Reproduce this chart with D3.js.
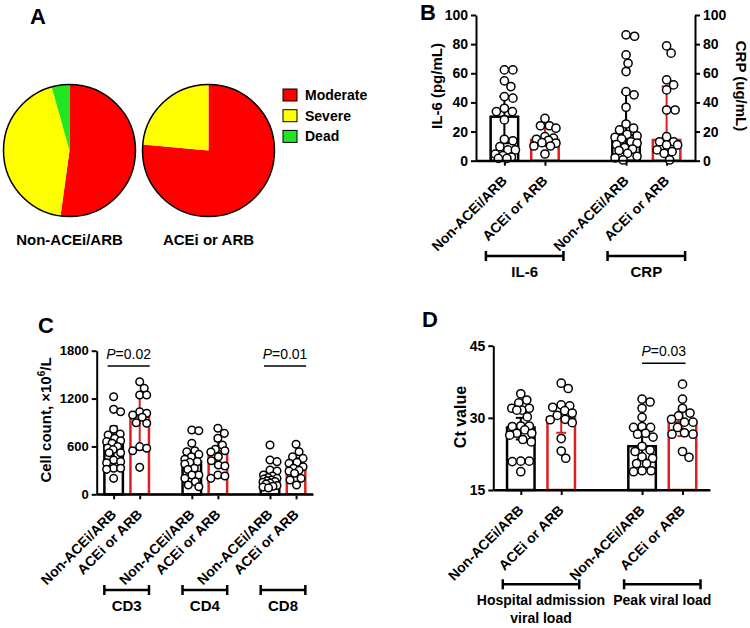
<!DOCTYPE html>
<html><head><meta charset="utf-8">
<script src="https://cdn.jsdelivr.net/npm/d3@7"></script>
<style>body{margin:0;background:#fff}svg{display:block}</style>
</head><body><svg id="c" width="750" height="628"></svg>
<script>
// ---------------- DATA ----------------
const treatments = ["Non-ACEi/ARB", "ACEi or ARB"];

// Panel A (patient counts)
const pieCategories = ["Moderate", "Severe", "Dead"];
const pieColors = ["#ff0000", "#ffff00", "#22e622"];
const pieNonACEi = [12, 10, 1];
const pieACEi = [13, 4, 0];

// Panel B
const bGroups = ["IL-6", "CRP"];
const bTicks = [0, 20, 40, 60, 80, 100];
const il6Non = [62.3, 62.3, 54.8, 50.9, 44, 42.9, 36, 33.7, 33.7, 28, 14.7, 13.7, 9.6, 7.4, 7.4, 4.5, 3.5, 2.5, 1.6, 1.6];
const il6ACEi = [29, 24, 24, 22.3, 16.5, 15.5, 14.7, 14, 12.4, 12, 10.1, 10.1, 4.6];
const crpNon = [86.4, 85.4, 72.6, 66.9, 61.2, 47.4, 45.2, 36.7, 25.2, 22.3, 21.1, 18, 17, 16, 15, 13, 12, 11, 9, 8, 7, 5, 3, 2, 0.5];
const crpACEi = [78.8, 73.8, 55.5, 52, 48.6, 34.8, 34.8, 16.5, 13, 13, 10.8, 10.8, 7.4, 6.2, 5, 0.5];
const bBars = [30.2, 14.2, 17.6, 14.2];
const bErrLow = [12, 10, 6, 5];
const bErrHigh = [44, 23.8, 47, 51];

// Panel C
const cGroups = ["CD3", "CD4", "CD8"];
const cTicks = [0, 600, 1200, 1800];
const cd3Non = [1223, 1065, 1035, 815, 756, 743, 702, 672, 660, 640, 600, 580, 560, 521, 520, 430, 409, 396, 326, 326, 313, 200];
const cd3ACEi = [1411, 1329, 1245, 1245, 1035, 1015, 994, 965, 897, 890, 597, 577, 546, 338];
const cd4Non = [806, 797, 639, 546, 534, 500, 470, 440, 409, 400, 380, 326, 310, 242, 242, 200, 158, 117, 95];
const cd4ACEi = [827, 764, 702, 618, 564, 546, 530, 471, 421, 367, 355, 242, 229, 200];
const cd8Non = [618, 430, 409, 305, 292, 242, 230, 210, 200, 190, 180, 170, 160, 150, 140, 130, 110, 100, 90, 80];
const cd8ACEi = [627, 534, 471, 450, 400, 388, 346, 326, 300, 290, 263, 200, 180, 117];
const cBars = [618, 973, 409, 534, 171, 355];
const cErrLow = [400, 560, 250, 350, 110, 230];
const cErrHigh = [850, 1225, 520, 665, 240, 455];
const cPValues = ["0.02", null, "0.01"];

// Panel D
const dGroups = ["Hospital admission\nviral load", "Peak viral load"];
const dTicks = [15, 30, 45];
const hospNon = [35, 33.7, 33.1, 32, 32, 31.6, 31.6, 30.2, 28.3, 28.3, 28.2, 27.5, 26.8, 26.8, 26.4, 25.5, 25, 21, 21, 20.9, 18.8];
const hospACEi = [37.2, 36.1, 32.7, 32.5, 32.2, 31.5, 31, 30.5, 29.7, 29.6, 29, 25.7, 23.1, 21.6];
const peakNon = [33.9, 33.3, 32, 30.1, 28.2, 28, 28, 26.8, 26.6, 26, 24.1, 23.3, 23, 21.9, 21.6, 20.5, 20.5, 19, 19, 18.8];
const peakACEi = [37, 33.9, 32, 31, 30.4, 29.7, 29.1, 29.1, 28, 26.9, 26.6, 26.6, 23, 21.8];
const dBars = [28.0, 30.1, 24.1, 29.1];
const dErrLow = [25.5, 26.9, 21.5, 26.2];
const dErrHigh = [30, 32.5, 27.8, 31.6];
const dPValues = [null, "0.03"];

// ---------------- DRAWING ----------------
const FONT = '"Liberation Sans", Arial, Helvetica, sans-serif';
const RED = "#dd1f1f";
const svg = d3.select("#c").attr("font-family", FONT);

function panelLabel(t, x, y) {
  svg.append("text").attr("x", x).attr("y", y).attr("font-size", 22).attr("font-weight", "bold").text(t);
}

// ---- Panel A ----
panelLabel("A", 30, 24);
const pieGen = d3.pie().sort(null).value(d => d);
const arcGen = d3.arc().innerRadius(0).outerRadius(66);
[[pieNonACEi, 69.5, 150.5, treatments[0]], [pieACEi, 208.5, 150.5, treatments[1]]].forEach(([vals, cx, cy, lab]) => {
  const g = svg.append("g").attr("transform", `translate(${cx},${cy})`);
  g.selectAll("path").data(pieGen(vals)).join("path")
    .attr("d", arcGen).attr("fill", (d, i) => pieColors[i]);
  g.append("circle").attr("r", 66).attr("fill", "none").attr("stroke", "#000").attr("stroke-width", 1.5);
  svg.append("text").attr("x", cx).attr("y", 245).attr("text-anchor", "middle")
    .attr("font-size", 15).attr("font-weight", "bold").text(lab);
});
const leg = svg.append("g");
pieCategories.forEach((c, i) => {
  leg.append("rect").attr("x", 283).attr("y", 89 + i * 20.7).attr("width", 14).attr("height", 12)
    .attr("fill", pieColors[i]).attr("stroke", "#000").attr("stroke-width", 1);
  leg.append("text").attr("x", 305).attr("y", 100 + i * 20.7).attr("font-size", 14)
    .attr("font-weight", "bold").text(c);
});

// ---- constrained swarm helper ----
function swarm(values, y, cx, r, spread) {
  const pts = values.map(v => ({ v, y: y(v) })).sort((a, b) => a.y - b.y);
  const placed = [];
  const minD = 2 * r + 0.3;
  const cands = [0];
  for (let s = 0.5; s <= spread + 1e-9; s += 0.5) { cands.push(s, -s); }
  pts.forEach(p => {
    let chosen = null, bestX = cx, bestD = -1;
    for (const off of cands) {
      const cand = cx + off;
      let md = Infinity;
      placed.forEach(q => { const d = Math.hypot(q.x - cand, q.y - p.y); if (d < md) md = d; });
      if (md >= minD) { chosen = cand; break; }
      if (md > bestD) { bestD = md; bestX = cand; }
    }
    p.x = chosen !== null ? chosen : bestX;
    placed.push(p);
  });
  return placed;
}

function styleAxis(g, size) {
  g.attr("font-family", FONT).attr("font-size", size).attr("font-weight", "bold");
  g.selectAll("path,line").attr("stroke", "#000").attr("stroke-width", 2);
  g.selectAll("text").attr("fill", "#000");
}

function barPanel(o) {
  const slots = [];
  o.groups.forEach((gr, gi) => {
    if (gi > 0) slots.push("gap" + gi);
    treatments.forEach(t => slots.push(gr + "|" + t));
  });
  const keys = slots.filter(k => !k.startsWith("gap"));
  const x = d3.scalePoint().domain(slots).range(o.xRange).padding(o.pad);
  const y = d3.scaleLinear().domain(o.yDomain).range(o.yRange);
  const base = y(o.yDomain[0]);

  const ya = svg.append("g").attr("transform", `translate(${o.xRange[0]},0)`)
    .call(d3.axisLeft(y).tickValues(o.ticks).tickFormat(d3.format("d")).tickSize(5).tickSizeOuter(0).tickPadding(3));
  styleAxis(ya, o.tickFont);
  if (o.rightAxis) {
    const yr = svg.append("g").attr("transform", `translate(${o.xRange[1]},0)`)
      .call(d3.axisRight(y).tickValues(o.ticks).tickFormat(d3.format("d")).tickSize(5).tickSizeOuter(0).tickPadding(3));
    styleAxis(yr, o.tickFont);
  }
  const xa = svg.append("g").attr("transform", `translate(0,${base})`)
    .call(d3.axisBottom(x).tickValues(keys).tickSize(5).tickSizeOuter(0).tickFormat(k => k.split("|")[1]));
  styleAxis(xa, 14);
  xa.selectAll("text").attr("text-anchor", "end").attr("y", 0).attr("dy", 0)
    .attr("transform", "translate(3,21) rotate(-45)");

  keys.forEach((k, i) => {
    const col = i % 2 ? RED : "#000";
    const cx = x(k);
    svg.append("rect").attr("x", cx - o.bw / 2).attr("y", y(o.bars[i]))
      .attr("width", o.bw).attr("height", base - y(o.bars[i]))
      .attr("fill", "#fff").attr("stroke", col).attr("stroke-width", 2.5);
    const eg = svg.append("g").attr("stroke", col).attr("stroke-width", 2);
    eg.append("line").attr("x1", cx).attr("x2", cx).attr("y1", y(o.errLow[i])).attr("y2", y(o.errHigh[i]));
    [o.errLow[i], o.errHigh[i]].forEach(v => eg.append("line").attr("x1", cx - o.cap).attr("x2", cx + o.cap)
      .attr("y1", y(v)).attr("y2", y(v)));
    const pts = swarm(o.values[i], y, cx, o.r, o.spread);
    svg.append("g").selectAll("circle").data(pts).join("circle")
      .attr("cx", d => d.x).attr("cy", d => d.y).attr("r", o.r)
      .attr("fill", "#fff").attr("stroke", "#000").attr("stroke-width", 1.5);
  });
  svg.append("line").attr("x1", o.xRange[0]).attr("x2", o.xRange[1]).attr("y1", base).attr("y2", base)
    .attr("stroke", "#000").attr("stroke-width", 2);

  o.groups.forEach((gr, gi) => {
    const x1 = x(gr + "|" + treatments[0]) - o.brExt, x2 = x(gr + "|" + treatments[1]) + o.brExt;
    const bg = svg.append("g").attr("stroke", "#000").attr("stroke-width", 2.5);
    bg.append("line").attr("x1", x1).attr("x2", x2).attr("y1", o.brY).attr("y2", o.brY);
    [x1, x2].forEach(xx => bg.append("line").attr("x1", xx).attr("x2", xx).attr("y1", o.brY - 5).attr("y2", o.brY + 5));
    const t = svg.append("text").attr("x", (x1 + x2) / 2).attr("y", o.brY + 21).attr("text-anchor", "middle")
      .attr("font-size", o.groupFont).attr("font-weight", "bold");
    gr.split("\n").forEach((line, li) => t.append("tspan").attr("x", (x1 + x2) / 2).attr("dy", li ? 18 : 0).text(line));
    if (o.pvals && o.pvals[gi]) {
      const p1 = x(gr + "|" + treatments[0]) + o.pOff[0], p2 = x(gr + "|" + treatments[1]) + o.pOff[1];
      svg.append("line").attr("x1", p1).attr("x2", p2).attr("y1", o.pY).attr("y2", o.pY)
        .attr("stroke", "#000").attr("stroke-width", 1.5);
      const pt = svg.append("text").attr("x", (p1 + p2) / 2).attr("y", o.pY - 7).attr("text-anchor", "middle")
        .attr("font-size", 14);
      pt.append("tspan").attr("font-style", "italic").text("P");
      pt.append("tspan").text("=" + o.pvals[gi]);
    }
  });
  return { x, y };
}

// ---- Panel B ----
panelLabel("B", 420, 20);
barPanel({
  groups: bGroups, values: [il6Non, il6ACEi, crpNon, crpACEi],
  bars: bBars, errLow: bErrLow, errHigh: bErrHigh,
  xRange: [476, 695], pad: 0.7, yDomain: [0, 100], yRange: [160.7, 15], ticks: bTicks,
  tickFont: 14, rightAxis: true, bw: 27.5, cap: 5, brExt: 18.5, brY: 256, groupFont: 15,
  r: 4.1, spread: 11
});
svg.append("text").attr("transform", "translate(442,86) rotate(-90)").attr("text-anchor", "middle")
  .attr("font-size", 15).attr("font-weight", "bold").text("IL-6 (pg/mL)");
svg.append("text").attr("transform", "translate(736,86) rotate(90)").attr("text-anchor", "middle")
  .attr("font-size", 15).attr("font-weight", "bold").text("CRP (ug/mL)");

// ---- Panel C ----
panelLabel("C", 38, 333);
barPanel({
  groups: cGroups, values: [cd3Non, cd3ACEi, cd4Non, cd4ACEi, cd8Non, cd8ACEi],
  bars: cBars, errLow: cErrLow, errHigh: cErrHigh,
  xRange: [96.7, 313], pad: 0.65, yDomain: [0, 1800], yRange: [494.3, 350.7], ticks: cTicks,
  tickFont: 13, rightAxis: false, bw: 18.5, cap: 4, brExt: 9.3, brY: 590, groupFont: 15,
  pvals: cPValues, pOff: [-6, 10], pY: 366, r: 3.8, spread: 7
});
{
  const t = svg.append("text").attr("transform", "translate(51,420) rotate(-90)").attr("text-anchor", "middle")
    .attr("font-size", 15).attr("font-weight", "bold");
  t.append("tspan").text("Cell count, \u00d710");
  t.append("tspan").attr("font-size", 10).attr("dy", -6).text("6");
  t.append("tspan").attr("dy", 6).text("/L");
}

// ---- Panel D ----
panelLabel("D", 422, 327);
barPanel({
  groups: dGroups, values: [hospNon, hospACEi, peakNon, peakACEi],
  bars: dBars, errLow: dErrLow, errHigh: dErrHigh,
  xRange: [493.3, 710], pad: 0.68, yDomain: [15, 45], yRange: [490, 345.7], ticks: dTicks,
  tickFont: 14, rightAxis: false, bw: 27.5, cap: 5, brExt: 18, brY: 584.3, groupFont: 14,
  pvals: dPValues, pOff: [0, 3], pY: 363.3, r: 4.1, spread: 11
});
svg.append("text").attr("transform", "translate(466,417) rotate(-90)").attr("text-anchor", "middle")
  .attr("font-size", 16).attr("font-weight", "bold").text("Ct value");
</script></body></html>
